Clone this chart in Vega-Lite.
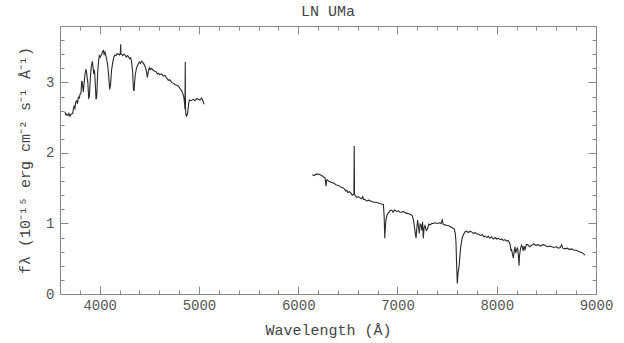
{
  "$schema": "https://vega.github.io/schema/vega-lite/v6.json",
  "width": 536,
  "height": 268,
  "autosize": {"type": "none"},
  "padding": {"left": 60, "top": 26, "right": 28, "bottom": 49},
  "background": "white",
  "title": {"text": "LN UMa", "font": "Liberation Mono", "fontSize": 15, "fontWeight": "normal", "color": "#444", "offset": 0},
  "config": {
    "view": {"stroke": null},
    "axis": {
      "grid": false,
      "domainColor": "#888",
      "domainWidth": 1,
      "tickColor": "#888",
      "tickWidth": 1,
      "labelFont": "Liberation Mono",
      "labelFontSize": 14,
      "labelColor": "#555",
      "labelOverlap": false,
      "labelFlush": false,
      "titleFont": "Liberation Mono",
      "titleFontSize": 15,
      "titleFontWeight": "normal",
      "titleColor": "#444"
    }
  },
  "resolve": {"axis": {"x": "independent", "y": "independent"}},
  "layer": [
    {
      "data": {"values": [
        {"wavelength": 3650, "flux": 2.58}, {"wavelength": 3660, "flux": 2.54}, {"wavelength": 3667, "flux": 2.55},
        {"wavelength": 3680, "flux": 2.53}, {"wavelength": 3690, "flux": 2.56}, {"wavelength": 3701, "flux": 2.52},
        {"wavelength": 3712, "flux": 2.55}, {"wavelength": 3728, "flux": 2.56}, {"wavelength": 3735, "flux": 2.62},
        {"wavelength": 3741, "flux": 2.66}, {"wavelength": 3750, "flux": 2.63}, {"wavelength": 3758, "flux": 2.72},
        {"wavelength": 3768, "flux": 2.74}, {"wavelength": 3776, "flux": 2.70}, {"wavelength": 3785, "flux": 2.79},
        {"wavelength": 3795, "flux": 2.78}, {"wavelength": 3803, "flux": 2.84}, {"wavelength": 3812, "flux": 2.85},
        {"wavelength": 3818, "flux": 3.00}, {"wavelength": 3822, "flux": 3.02}, {"wavelength": 3828, "flux": 2.95},
        {"wavelength": 3835, "flux": 2.86}, {"wavelength": 3842, "flux": 2.98}, {"wavelength": 3852, "flux": 3.12},
        {"wavelength": 3862, "flux": 3.19}, {"wavelength": 3870, "flux": 3.12}, {"wavelength": 3880, "flux": 3.00},
        {"wavelength": 3889, "flux": 2.78}, {"wavelength": 3896, "flux": 2.80}, {"wavelength": 3905, "flux": 3.05},
        {"wavelength": 3915, "flux": 3.22}, {"wavelength": 3926, "flux": 3.30}, {"wavelength": 3934, "flux": 3.20},
        {"wavelength": 3940, "flux": 3.12}, {"wavelength": 3947, "flux": 3.18}, {"wavelength": 3955, "flux": 3.00},
        {"wavelength": 3963, "flux": 2.76}, {"wavelength": 3970, "flux": 2.80}, {"wavelength": 3980, "flux": 3.15},
        {"wavelength": 3988, "flux": 3.30}, {"wavelength": 3996, "flux": 3.38}, {"wavelength": 4005, "flux": 3.36},
        {"wavelength": 4020, "flux": 3.40}, {"wavelength": 4030, "flux": 3.44}, {"wavelength": 4037, "flux": 3.45},
        {"wavelength": 4045, "flux": 3.40}, {"wavelength": 4053, "flux": 3.43}, {"wavelength": 4062, "flux": 3.38},
        {"wavelength": 4070, "flux": 3.33}, {"wavelength": 4080, "flux": 3.25}, {"wavelength": 4090, "flux": 3.10},
        {"wavelength": 4101, "flux": 2.90}, {"wavelength": 4110, "flux": 2.98}, {"wavelength": 4120, "flux": 3.18},
        {"wavelength": 4131, "flux": 3.28}, {"wavelength": 4142, "flux": 3.36}, {"wavelength": 4154, "flux": 3.39},
        {"wavelength": 4165, "flux": 3.38}, {"wavelength": 4175, "flux": 3.41}, {"wavelength": 4188, "flux": 3.40},
        {"wavelength": 4200, "flux": 3.39}, {"wavelength": 4208, "flux": 3.42}, {"wavelength": 4211, "flux": 3.54},
        {"wavelength": 4214, "flux": 3.40}, {"wavelength": 4221, "flux": 3.40}, {"wavelength": 4232, "flux": 3.38},
        {"wavelength": 4245, "flux": 3.40}, {"wavelength": 4255, "flux": 3.39}, {"wavelength": 4268, "flux": 3.36},
        {"wavelength": 4280, "flux": 3.38}, {"wavelength": 4288, "flux": 3.37}, {"wavelength": 4300, "flux": 3.34},
        {"wavelength": 4312, "flux": 3.35}, {"wavelength": 4322, "flux": 3.28}, {"wavelength": 4332, "flux": 3.14},
        {"wavelength": 4340, "flux": 2.90}, {"wavelength": 4346, "flux": 2.88}, {"wavelength": 4352, "flux": 3.00},
        {"wavelength": 4359, "flux": 3.12}, {"wavelength": 4372, "flux": 3.21}, {"wavelength": 4385, "flux": 3.25},
        {"wavelength": 4399, "flux": 3.29}, {"wavelength": 4410, "flux": 3.27}, {"wavelength": 4423, "flux": 3.30},
        {"wavelength": 4435, "flux": 3.28}, {"wavelength": 4446, "flux": 3.26}, {"wavelength": 4460, "flux": 3.22},
        {"wavelength": 4472, "flux": 3.15}, {"wavelength": 4480, "flux": 3.07}, {"wavelength": 4488, "flux": 3.14},
        {"wavelength": 4500, "flux": 3.21}, {"wavelength": 4510, "flux": 3.18}, {"wavelength": 4523, "flux": 3.20},
        {"wavelength": 4540, "flux": 3.17}, {"wavelength": 4557, "flux": 3.16}, {"wavelength": 4570, "flux": 3.15},
        {"wavelength": 4580, "flux": 3.12}, {"wavelength": 4591, "flux": 3.13}, {"wavelength": 4605, "flux": 3.11},
        {"wavelength": 4624, "flux": 3.12}, {"wavelength": 4640, "flux": 3.09}, {"wavelength": 4658, "flux": 3.10},
        {"wavelength": 4675, "flux": 3.06}, {"wavelength": 4691, "flux": 3.03}, {"wavelength": 4705, "flux": 3.04},
        {"wavelength": 4725, "flux": 3.00}, {"wavelength": 4740, "flux": 2.99}, {"wavelength": 4759, "flux": 2.97},
        {"wavelength": 4775, "flux": 2.96}, {"wavelength": 4792, "flux": 2.95}, {"wavelength": 4810, "flux": 2.91},
        {"wavelength": 4826, "flux": 2.88}, {"wavelength": 4840, "flux": 2.83}, {"wavelength": 4849, "flux": 2.78},
        {"wavelength": 4855, "flux": 2.70}, {"wavelength": 4859, "flux": 2.62}, {"wavelength": 4862, "flux": 3.29},
        {"wavelength": 4864, "flux": 2.66}, {"wavelength": 4870, "flux": 2.53}, {"wavelength": 4876, "flux": 2.52},
        {"wavelength": 4886, "flux": 2.56}, {"wavelength": 4895, "flux": 2.68}, {"wavelength": 4903, "flux": 2.75},
        {"wavelength": 4920, "flux": 2.74}, {"wavelength": 4943, "flux": 2.76}, {"wavelength": 4960, "flux": 2.74},
        {"wavelength": 4975, "flux": 2.77}, {"wavelength": 4994, "flux": 2.76}, {"wavelength": 5010, "flux": 2.75},
        {"wavelength": 5027, "flux": 2.78}, {"wavelength": 5040, "flux": 2.74}, {"wavelength": 5051, "flux": 2.69}
      ]},
      "mark": {"type": "line", "color": "#2a2a2a", "strokeWidth": 1.1},
      "encoding": {
        "x": {
          "field": "wavelength", "type": "quantitative",
          "scale": {"domain": [3600, 9000], "nice": false, "zero": false},
          "axis": {
            "orient": "bottom",
            "title": "Wavelength (Å)",
            "titlePadding": 6,
            "values": [3600, 3800, 4000, 4200, 4400, 4600, 4800, 5000, 5200, 5400, 5600, 5800, 6000, 6200, 6400, 6600, 6800, 7000, 7200, 7400, 7600, 7800, 8000, 8200, 8400, 8600, 8800, 9000],
            "labelExpr": "datum.value % 1000 === 0 ? format(datum.value, 'd') : ''",
            "tickSize": {"condition": {"test": "datum.value % 1000 === 0", "value": -8}, "value": -4},
            "labelPadding": 12
          }
        },
        "y": {
          "field": "flux", "type": "quantitative",
          "scale": {"domain": [0, 3.8], "nice": false},
          "axis": {
            "orient": "left",
            "title": "fλ (10⁻¹⁵ erg cm⁻² s⁻¹ Å⁻¹)",
            "titlePadding": 13,
            "values": [0, 0.2, 0.4, 0.6, 0.8, 1, 1.2, 1.4, 1.6, 1.8, 2, 2.2, 2.4, 2.6, 2.8, 3, 3.2, 3.4, 3.6, 3.8],
            "labelExpr": "abs(datum.value - round(datum.value)) < 0.001 ? format(datum.value, 'd') : ''",
            "tickSize": {"condition": {"test": "abs(datum.value - round(datum.value)) < 0.001", "value": -8}, "value": -4},
            "labelPadding": 14
          }
        }
      }
    },
    {
      "data": {"values": [
        {"wavelength": 6142, "flux": 1.69}, {"wavelength": 6160, "flux": 1.68}, {"wavelength": 6180, "flux": 1.70},
        {"wavelength": 6203, "flux": 1.70}, {"wavelength": 6220, "flux": 1.69}, {"wavelength": 6236, "flux": 1.68},
        {"wavelength": 6255, "flux": 1.66}, {"wavelength": 6270, "flux": 1.65}, {"wavelength": 6276, "flux": 1.58},
        {"wavelength": 6280, "flux": 1.53}, {"wavelength": 6286, "flux": 1.60}, {"wavelength": 6290, "flux": 1.62},
        {"wavelength": 6310, "flux": 1.60}, {"wavelength": 6337, "flux": 1.58}, {"wavelength": 6360, "flux": 1.57},
        {"wavelength": 6380, "flux": 1.55}, {"wavelength": 6404, "flux": 1.54}, {"wavelength": 6425, "flux": 1.52},
        {"wavelength": 6445, "flux": 1.51}, {"wavelength": 6465, "flux": 1.49}, {"wavelength": 6480, "flux": 1.46},
        {"wavelength": 6490, "flux": 1.47}, {"wavelength": 6498, "flux": 1.44}, {"wavelength": 6515, "flux": 1.45},
        {"wavelength": 6532, "flux": 1.43}, {"wavelength": 6545, "flux": 1.40}, {"wavelength": 6555, "flux": 1.41},
        {"wavelength": 6561, "flux": 1.42}, {"wavelength": 6564, "flux": 2.10}, {"wavelength": 6567, "flux": 1.42},
        {"wavelength": 6575, "flux": 1.39}, {"wavelength": 6590, "flux": 1.37}, {"wavelength": 6606, "flux": 1.38},
        {"wavelength": 6625, "flux": 1.36}, {"wavelength": 6640, "flux": 1.35}, {"wavelength": 6650, "flux": 1.38},
        {"wavelength": 6660, "flux": 1.34}, {"wavelength": 6673, "flux": 1.34}, {"wavelength": 6690, "flux": 1.32},
        {"wavelength": 6710, "flux": 1.33}, {"wavelength": 6740, "flux": 1.31}, {"wavelength": 6760, "flux": 1.30},
        {"wavelength": 6785, "flux": 1.30}, {"wavelength": 6807, "flux": 1.29}, {"wavelength": 6830, "flux": 1.28},
        {"wavelength": 6858, "flux": 1.27}, {"wavelength": 6866, "flux": 1.10}, {"wavelength": 6872, "flux": 0.79},
        {"wavelength": 6876, "flux": 0.90}, {"wavelength": 6884, "flux": 1.05}, {"wavelength": 6895, "flux": 1.12},
        {"wavelength": 6908, "flux": 1.15}, {"wavelength": 6925, "flux": 1.18}, {"wavelength": 6942, "flux": 1.19},
        {"wavelength": 6955, "flux": 1.16}, {"wavelength": 6970, "flux": 1.19}, {"wavelength": 6992, "flux": 1.17},
        {"wavelength": 7010, "flux": 1.18}, {"wavelength": 7025, "flux": 1.16}, {"wavelength": 7042, "flux": 1.16},
        {"wavelength": 7060, "flux": 1.17}, {"wavelength": 7080, "flux": 1.15}, {"wavelength": 7109, "flux": 1.14},
        {"wavelength": 7130, "flux": 1.13}, {"wavelength": 7150, "flux": 1.11}, {"wavelength": 7162, "flux": 1.04},
        {"wavelength": 7170, "flux": 0.96}, {"wavelength": 7180, "flux": 0.86}, {"wavelength": 7187, "flux": 0.79},
        {"wavelength": 7194, "flux": 0.92}, {"wavelength": 7203, "flux": 1.05}, {"wavelength": 7212, "flux": 0.95},
        {"wavelength": 7220, "flux": 0.86}, {"wavelength": 7228, "flux": 0.99}, {"wavelength": 7237, "flux": 0.98},
        {"wavelength": 7246, "flux": 0.90}, {"wavelength": 7253, "flux": 1.02}, {"wavelength": 7260, "flux": 0.79},
        {"wavelength": 7268, "flux": 0.94}, {"wavelength": 7277, "flux": 0.97}, {"wavelength": 7290, "flux": 0.90},
        {"wavelength": 7304, "flux": 0.93}, {"wavelength": 7315, "flux": 0.99}, {"wavelength": 7328, "flux": 0.98},
        {"wavelength": 7345, "flux": 1.00}, {"wavelength": 7361, "flux": 1.00}, {"wavelength": 7380, "flux": 1.01},
        {"wavelength": 7400, "flux": 1.00}, {"wavelength": 7420, "flux": 1.01}, {"wavelength": 7440, "flux": 1.00},
        {"wavelength": 7452, "flux": 1.05}, {"wavelength": 7460, "flux": 0.99}, {"wavelength": 7479, "flux": 0.98},
        {"wavelength": 7500, "flux": 0.97}, {"wavelength": 7529, "flux": 0.96}, {"wavelength": 7550, "flux": 0.94},
        {"wavelength": 7573, "flux": 0.92}, {"wavelength": 7583, "flux": 0.85}, {"wavelength": 7590, "flux": 0.72},
        {"wavelength": 7596, "flux": 0.40}, {"wavelength": 7603, "flux": 0.15}, {"wavelength": 7610, "flux": 0.30},
        {"wavelength": 7620, "flux": 0.39}, {"wavelength": 7628, "flux": 0.52}, {"wavelength": 7637, "flux": 0.67},
        {"wavelength": 7650, "flux": 0.78}, {"wavelength": 7663, "flux": 0.84}, {"wavelength": 7680, "flux": 0.88},
        {"wavelength": 7697, "flux": 0.89}, {"wavelength": 7715, "flux": 0.87}, {"wavelength": 7730, "flux": 0.89},
        {"wavelength": 7747, "flux": 0.88}, {"wavelength": 7765, "flux": 0.86}, {"wavelength": 7785, "flux": 0.87},
        {"wavelength": 7800, "flux": 0.85}, {"wavelength": 7815, "flux": 0.85}, {"wavelength": 7835, "flux": 0.83},
        {"wavelength": 7855, "flux": 0.84}, {"wavelength": 7870, "flux": 0.81}, {"wavelength": 7882, "flux": 0.82},
        {"wavelength": 7900, "flux": 0.80}, {"wavelength": 7915, "flux": 0.82}, {"wavelength": 7930, "flux": 0.79},
        {"wavelength": 7949, "flux": 0.81}, {"wavelength": 7965, "flux": 0.78}, {"wavelength": 7985, "flux": 0.80},
        {"wavelength": 8000, "flux": 0.78}, {"wavelength": 8016, "flux": 0.79}, {"wavelength": 8035, "flux": 0.77},
        {"wavelength": 8050, "flux": 0.78}, {"wavelength": 8065, "flux": 0.76}, {"wavelength": 8083, "flux": 0.77},
        {"wavelength": 8100, "flux": 0.75}, {"wavelength": 8115, "flux": 0.76}, {"wavelength": 8124, "flux": 0.74},
        {"wavelength": 8135, "flux": 0.70}, {"wavelength": 8143, "flux": 0.62}, {"wavelength": 8150, "flux": 0.63},
        {"wavelength": 8158, "flux": 0.57}, {"wavelength": 8167, "flux": 0.51}, {"wavelength": 8175, "flux": 0.60},
        {"wavelength": 8184, "flux": 0.67}, {"wavelength": 8192, "flux": 0.58}, {"wavelength": 8201, "flux": 0.63},
        {"wavelength": 8210, "flux": 0.66}, {"wavelength": 8218, "flux": 0.55}, {"wavelength": 8224, "flux": 0.40},
        {"wavelength": 8230, "flux": 0.55}, {"wavelength": 8238, "flux": 0.63}, {"wavelength": 8248, "flux": 0.69},
        {"wavelength": 8258, "flux": 0.67}, {"wavelength": 8266, "flux": 0.61}, {"wavelength": 8275, "flux": 0.68},
        {"wavelength": 8285, "flux": 0.63}, {"wavelength": 8298, "flux": 0.70}, {"wavelength": 8312, "flux": 0.70},
        {"wavelength": 8330, "flux": 0.67}, {"wavelength": 8352, "flux": 0.69}, {"wavelength": 8370, "flux": 0.71},
        {"wavelength": 8395, "flux": 0.69}, {"wavelength": 8419, "flux": 0.70}, {"wavelength": 8440, "flux": 0.68},
        {"wavelength": 8465, "flux": 0.70}, {"wavelength": 8486, "flux": 0.69}, {"wavelength": 8510, "flux": 0.67},
        {"wavelength": 8530, "flux": 0.68}, {"wavelength": 8553, "flux": 0.67}, {"wavelength": 8575, "flux": 0.66},
        {"wavelength": 8600, "flux": 0.67}, {"wavelength": 8620, "flux": 0.65}, {"wavelength": 8640, "flux": 0.66},
        {"wavelength": 8654, "flux": 0.70}, {"wavelength": 8665, "flux": 0.65}, {"wavelength": 8688, "flux": 0.64},
        {"wavelength": 8710, "flux": 0.65}, {"wavelength": 8735, "flux": 0.63}, {"wavelength": 8755, "flux": 0.64},
        {"wavelength": 8780, "flux": 0.62}, {"wavelength": 8805, "flux": 0.62}, {"wavelength": 8830, "flux": 0.60},
        {"wavelength": 8856, "flux": 0.59}, {"wavelength": 8875, "flux": 0.57}, {"wavelength": 8889, "flux": 0.55}
      ]},
      "mark": {"type": "line", "color": "#2a2a2a", "strokeWidth": 1.1},
      "encoding": {
        "x": {
          "field": "wavelength", "type": "quantitative",
          "axis": {
            "orient": "top",
            "title": null,
            "labels": false,
            "values": [3600, 3800, 4000, 4200, 4400, 4600, 4800, 5000, 5200, 5400, 5600, 5800, 6000, 6200, 6400, 6600, 6800, 7000, 7200, 7400, 7600, 7800, 8000, 8200, 8400, 8600, 8800, 9000],
            "tickSize": {"condition": {"test": "datum.value % 1000 === 0", "value": -8}, "value": -4}
          }
        },
        "y": {
          "field": "flux", "type": "quantitative",
          "axis": {
            "orient": "right",
            "title": null,
            "labels": false,
            "values": [0, 0.2, 0.4, 0.6, 0.8, 1, 1.2, 1.4, 1.6, 1.8, 2, 2.2, 2.4, 2.6, 2.8, 3, 3.2, 3.4, 3.6, 3.8],
            "tickSize": {"condition": {"test": "abs(datum.value - round(datum.value)) < 0.001", "value": -8}, "value": -4}
          }
        }
      }
    }
  ]
}
